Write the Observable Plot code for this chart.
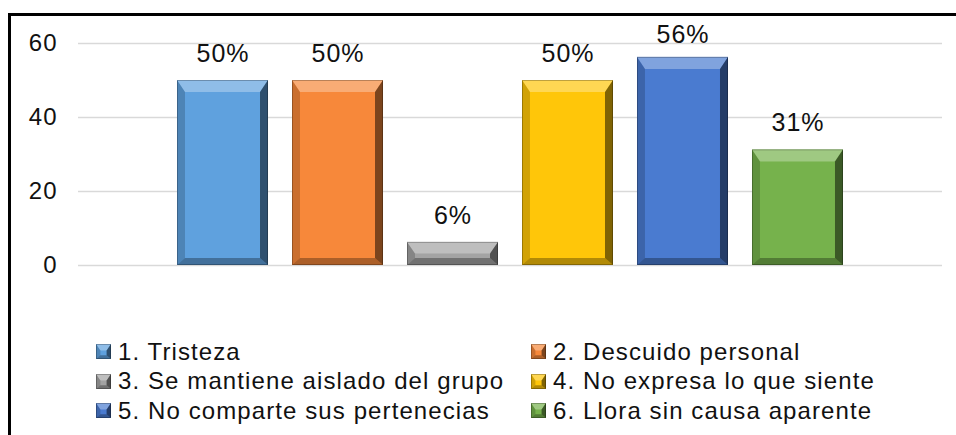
<!DOCTYPE html>
<html>
<head>
<meta charset="utf-8">
<script src="https://cdn.jsdelivr.net/npm/d3@7"></script>
<script src="https://cdn.jsdelivr.net/npm/@observablehq/plot@0.6"></script>
<style>
  html, body { margin: 0; padding: 0; background: #fff; }
  #chart { position: relative; width: 956px; height: 435px; overflow: hidden; font-family: "Liberation Sans", Arial, sans-serif; color: #111; }
  #frameTop { position: absolute; left: 8px; top: 13px; width: 960px; height: 3px; background: #000; }
  #frameLeft { position: absolute; left: 8px; top: 13px; width: 3px; height: 440px; background: #000; }
  #plot { position: absolute; left: 0; top: 0; }
  #plot svg text { letter-spacing: 1px; }
  #legend { position: absolute; left: 96px; top: 337px; display: grid; grid-template-columns: 435px 360px; grid-auto-rows: 29.5px; }
  .item { display: flex; align-items: center; font-size: 24px; letter-spacing: 1.1px; white-space: nowrap; height: 29.5px; }
  .item svg { margin-right: 7px; flex: none; }
</style>
</head>
<body>
<div id="chart">
  <div id="plot"></div>
  <div id="legend"></div>
  <div id="frameTop"></div>
  <div id="frameLeft"></div>
</div>
<script>
const categories = ["1. Tristeza", "2. Descuido personal", "3. Se mantiene aislado del grupo", "4. No expresa lo que siente", "5. No comparte sus pertenecias", "6. Llora sin causa aparente"];
const values = [50, 50, 6.25, 50, 56.25, 31.25];
const valueLabels = ["50%", "50%", "6%", "50%", "56%", "31%"];
const colors = ["#5fa1de", "#f7883a", "#a3a3a3", "#ffc609", "#4a7bd0", "#76b24c"];
const yTicks = [0, 20, 40, 60];

const data = categories.map((c, i) => ({category: c, value: values[i], label: valueLabels[i], color: colors[i]}));

const plot = Plot.plot({
  width: 956,
  height: 290,
  marginLeft: 78,
  marginRight: 14,
  marginTop: 43,
  marginBottom: 25,
  style: {fontFamily: "'Liberation Sans', Arial, sans-serif", color: "#111", background: "transparent"},
  x: {domain: categories, paddingInner: 0.2087, paddingOuter: 0.861, round: false, axis: null},
  y: {domain: [0, 60]},
  color: {type: "identity"},
  marks: [
    Plot.gridY(yTicks, {stroke: "#d9d9d9", strokeOpacity: 1, strokeWidth: 1.6}),
    Plot.axisY(yTicks, {tickSize: 0, tickPadding: 21, fontSize: 24, label: null, fill: "#111"}),
    Plot.barY(data, {x: "category", y: "value", fill: "color"}),
    Plot.text(data, {x: "category", y: d => Math.min(d.value + 7.2, 62.2), text: "label", fontSize: 25, fill: "#111"})
  ]
});
document.getElementById("plot").appendChild(plot);

// bevel shading drawn over the bars Plot rendered
function bevel(g, x, y, w, h, scale) {
  const bt = Math.min(12 * scale, h * 0.5), bb = Math.min(7 * scale, h * 0.3), bs = 8 * scale;
  const pts = (arr) => arr.map(p => p.join(",")).join(" ");
  g.append("polygon").attr("points", pts([[x, y], [x + w, y], [x + w - bs, y + bt], [x + bs, y + bt]])).attr("fill", "#fff").attr("fill-opacity", 0.3);
  g.append("polygon").attr("points", pts([[x, y], [x + bs, y + bt], [x + bs, y + h - bb], [x, y + h]])).attr("fill", "#000").attr("fill-opacity", 0.18);
  g.append("polygon").attr("points", pts([[x, y + h], [x + bs, y + h - bb], [x + w - bs, y + h - bb], [x + w, y + h]])).attr("fill", "#000").attr("fill-opacity", 0.3);
  g.append("polygon").attr("points", pts([[x + w, y], [x + w, y + h], [x + w - bs, y + h - bb], [x + w - bs, y + bt]])).attr("fill", "#000").attr("fill-opacity", 0.5);
  g.append("rect").attr("x", x + 0.5).attr("y", y + 0.5).attr("width", w - 1).attr("height", h - 1).attr("fill", "none").attr("stroke", "#000").attr("stroke-opacity", 0.25);
}
const svg = d3.select(plot);
const overlay = svg.insert("g", 'g[aria-label="text"]');
svg.selectAll('g[aria-label="bar"] rect').each(function () {
  const r = d3.select(this);
  bevel(overlay, +r.attr("x"), +r.attr("y"), +r.attr("width"), +r.attr("height"), 1);
});

// legend
const legend = d3.select("#legend");
categories.forEach((c, i) => {
  const item = legend.append("div").attr("class", "item");
  const s = item.append("svg").attr("width", 15).attr("height", 15);
  s.append("rect").attr("width", 15).attr("height", 15).attr("fill", colors[i]);
  bevel(s, 0, 0, 15, 15, 0.55);
  item.append("span").text(c);
});
</script>
</body>
</html>
